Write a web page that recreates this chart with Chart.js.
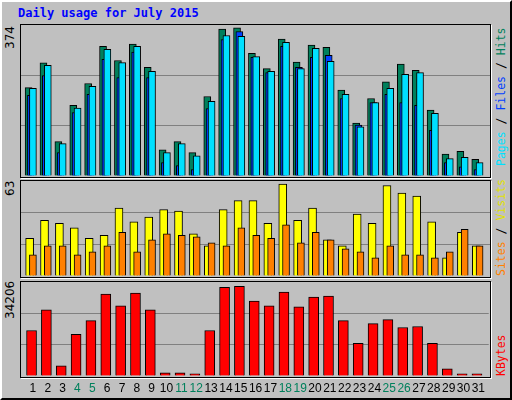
<!DOCTYPE html>
<html>
<head>
<meta charset="utf-8">
<script src="https://cdn.jsdelivr.net/npm/chart.js@4"></script>
<style>
  body { margin: 0; background: #c0c0c0; }
  #frame { position: absolute; left: 0; top: 0; width: 508px; height: 396px;
    background: #c0c0c0; border: 2px solid; border-color: #fff #000 #000 #fff; }
  .plot { position: absolute; border: 1px solid #000; box-shadow: 1px 1px 0 #fff; }
  canvas { position: absolute; }
  .txt { position: absolute; font-family: "DejaVu Sans Mono", monospace; font-size: 11.5px;
    white-space: nowrap; transform-origin: 0 0; transform: rotate(-90deg); line-height: 13px; }
  .max { font-size: 12px; font-family: "DejaVu Sans", sans-serif; }
  #title { position: absolute; left: 18px; top: 6px; font: bold 12px "DejaVu Sans Mono", monospace; color: #0000ff; }
</style>
</head>
<body>
<div id="frame"></div>
<div id="title">Daily usage for July 2015</div>
<div class="plot" style="left:20px;top:24px;width:469px;height:152px"></div>
<div class="plot" style="left:20px;top:180px;width:469px;height:96px"></div>
<div class="plot" style="left:20px;top:281px;width:469px;height:95px"></div>
<canvas id="top" width="469" height="151" style="left:21px;top:25px"></canvas>
<canvas id="mid" width="469" height="95" style="left:21px;top:181px"></canvas>
<canvas id="bot" width="469" height="114" style="left:21px;top:282px"></canvas>

<div class="txt max" style="left:4px;top:49px">374</div>
<div class="txt max" style="left:4px;top:196px">63</div>
<div class="txt max" style="left:4px;top:319px">34206</div>
<div class="txt" style="left:495px;top:166px"><span style="color:#00e0ff">Pages</span> / <span style="color:#0040ff">Files</span> / <span style="color:#00805c">Hits</span></div>
<div class="txt" style="left:495px;top:276px"><span style="color:#ff8000">Sites</span> / <span style="color:#e0e000">Visits</span></div>
<div class="txt" style="left:495px;top:376px"><span style="color:#ff0000">KBytes</span></div>

<script>
const days = [1,2,3,4,5,6,7,8,9,10,11,12,13,14,15,16,17,18,19,20,21,22,23,24,25,26,27,28,29,30,31];
const weekends = [4,5,11,12,18,19,25,26];
const hits  = [219,280,85,175,229,321,286,327,269,65,85,58,197,364,367,304,266,339,282,324,319,213,131,192,233,277,262,163,54,61,41];
const files = [200,249,58,157,202,289,244,307,244,33,26,16,167,338,358,294,256,321,269,294,299,192,126,182,202,182,175,113,33,23,16];
const pages = [217,274,80,168,222,314,281,321,259,58,80,50,185,348,346,296,259,331,266,316,284,202,122,182,217,252,256,155,43,46,33];
const visits = [25,37,35,32,25,27,45,36,39,44,43,28,20,44,50,50,35,61,37,45,24,20,41,35,60,55,53,36,12,29,20];
const sites  = [14,20,20,14,16,20,29,16,24,28,27,26,22,20,32,27,25,34,22,29,24,18,16,12,20,14,14,12,16,31,20];
const kbytes = [16570,24080,3700,15140,20140,29800,25510,30160,24080,1190,1190,830,16570,32300,32660,27300,25510,30520,25150,28730,29080,20140,11920,19070,20500,17640,18000,11920,2620,830,830];
const maxHits = 374, maxVisits = 63, maxKB = 34206;

const pts = arr => arr.map((v, i) => ({ x: days[i], y: v }));
const hiddenX = (shift) => ({ type: 'linear', display: false, offset: false, min: 0.2 + shift, max: 31.7 + shift });
const yAxis = (max) => ({
  min: 0, max: max, display: true,
  ticks: { display: false, stepSize: max / 3 },
  border: { display: false },
  grid: { drawTicks: false, color: c => (c.index === 0 || c.index === 3) ? 'rgba(0,0,0,0)' : '#808080' }
});
const bar = (data, color, axis, w) => ({
  data: pts(data), backgroundColor: color, borderColor: '#000', borderWidth: 1,
  xAxisID: axis, barThickness: w, grouped: false
});
const baseOpts = {
  responsive: false, animation: false,
  layout: { padding: 0 },
  plugins: { legend: { display: false }, tooltip: { enabled: false } }
};

new Chart(document.getElementById('top'), {
  type: 'bar',
  data: { datasets: [
    bar(pages, '#00e0ff', 'xp', 7),
    bar(files, '#0040ff', 'xf', 7),
    bar(hits, '#00805c', 'xh', 7)
  ] },
  options: { ...baseOpts, scales: { xp: hiddenX(0), xf: hiddenX(0.134), xh: hiddenX(0.29), y: yAxis(maxHits) } }
});

new Chart(document.getElementById('mid'), {
  type: 'bar',
  data: { datasets: [
    bar(sites, '#ff8000', 'xs', 7),
    bar(visits, '#ffff00', 'xv', 8)
  ] },
  options: { ...baseOpts, scales: { xs: hiddenX(0), xv: hiddenX(0.22), y: yAxis(maxVisits) } }
});

new Chart(document.getElementById('bot'), {
  type: 'bar',
  data: { datasets: [ bar(kbytes, '#ff0000', 'xk', 10) ] },
  options: { ...baseOpts, scales: {
    x: { type: 'linear', position: 'bottom', offset: false, min: 0.2, max: 31.7,
      grid: { display: false, drawTicks: false }, border: { display: false },
      afterBuildTicks: s => { s.ticks = days.map(d => ({ value: d })); },
      afterFit: s => { s.height = 20; },
      ticks: { padding: 5, autoSkip: false, maxRotation: 0,
        font: { family: 'Liberation Sans', size: 12 },
        color: c => weekends.includes(c.tick.value) ? '#00805c' : '#000',
        callback: v => String(v) } },
    xk: hiddenX(0.09),
    y: yAxis(maxKB)
  } }
});
</script>
</body>
</html>
